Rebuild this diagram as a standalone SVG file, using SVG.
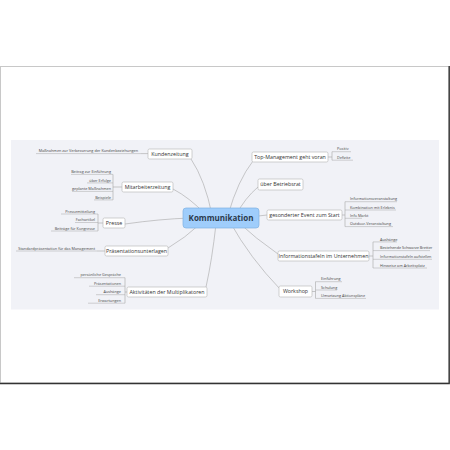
<svg xmlns="http://www.w3.org/2000/svg" width="450" height="450" viewBox="0 0 450 450">
<style>
.conn path{fill:none;stroke:#a6a6a6;stroke-width:0.6}
.node rect{fill:#ffffff;stroke:#b3b3b3;stroke-width:0.6}
.node text{font-family:"Open Sans","Liberation Sans",sans-serif;font-size:5.3px;fill:#333;text-anchor:middle}
.leaf text{font-family:"Open Sans","Liberation Sans",sans-serif;font-size:3.8px;fill:#444}
.leaf path{fill:none;stroke:#a6a6a6;stroke-width:0.5}
.l text{text-anchor:end}
.r text{text-anchor:start}
</style>
<rect x="0" y="0" width="450" height="450" fill="#ffffff"/>
<rect x="0.5" y="66.5" width="448.5" height="316.5" fill="#ffffff" stroke="#c8c8c8" stroke-width="1"/>
<path d="M449.2,66 V383.5 H0" fill="none" stroke="#333" stroke-width="1.4"/>
<rect x="11" y="140" width="428" height="169.5" fill="#f1f2f7"/>

<g class="conn">
<path d="M212,215 Q205,180 191,159"/>
<path d="M205,214 Q190,198 173,189"/>
<path d="M190,218 Q160,219 125,224"/>
<path d="M200,224 Q185,238 168,248"/>
<path d="M216,224 Q212,260 206,287"/>
<path d="M228,215 Q238,180 253,161"/>
<path d="M236,215 Q245,198 258,187"/>
<path d="M250,217 Q258,216 267,215"/>
<path d="M238,222 Q255,238 278,254"/>
<path d="M230,222 Q250,258 280,289"/>
<!-- brackets -->
<path d="M141,153.6 H148"/>
<path d="M122,187 H113 M113,174.4 V199.9"/>
<path d="M103,223 H98 M98,214 V231"/>
<path d="M105,251 H97"/>
<path d="M127,292 H125 M125,277.7 V303.2"/>
<path d="M328,157 H332 M332,151.7 V160.2"/>
<path d="M342,215 H345 M345,201.7 V226.6"/>
<path d="M369,256 H373 M373,241.9 V268"/>
<path d="M312,291.5 H315.5 M315.5,281.7 V298.4"/>
</g>

<g id="kundenzeitung" class="node"><rect x="148" y="149" width="44" height="10" rx="1.5"/><text x="170" y="155.9">Kundenzeitung</text></g>
<g id="mitarbeiterzeitung" class="node"><rect x="122" y="182" width="51" height="10" rx="1.5"/><text x="147.5" y="188.9">Mitarbeiterzeitung</text></g>
<g id="presse" class="node"><rect x="103" y="218" width="22" height="10" rx="1.5"/><text x="114" y="224.9">Presse</text></g>
<g id="praesentationsunterlagen" class="node"><rect x="105" y="246" width="63" height="10" rx="1.5"/><text x="136.5" y="252.9">Präsentationsunterlagen</text></g>
<g id="aktivitaeten" class="node"><rect x="127" y="287" width="80" height="10" rx="1.5"/><text x="167" y="293.9">Aktivitäten der Multiplikatoren</text></g>
<g id="topmanagement" class="node"><rect x="252" y="152" width="76" height="10" rx="1.5"/><text x="290" y="158.9">Top-Management geht voran</text></g>
<g id="betriebsrat" class="node"><rect x="258" y="179" width="45" height="11" rx="1.5"/><text x="280.5" y="186.4">über Betriebsrat</text></g>
<g id="event" class="node"><rect x="267" y="210" width="75" height="10" rx="1.5"/><text x="304.5" y="216.9">gesonderter Event zum Start</text></g>
<g id="informationstafeln" class="node"><rect x="278" y="251" width="91" height="10" rx="1.5"/><text x="323.5" y="257.9">Informationstafeln im Unternehmen</text></g>
<g id="workshop" class="node"><rect x="279" y="286" width="33" height="11" rx="1.5"/><text x="295.5" y="293.4">Workshop</text></g>

<g id="kommunikation"><rect x="183" y="208" width="76" height="20" rx="3" fill="#9fcdfb" stroke="#7fb2e2" stroke-width="0.7"/><text x="221" y="221" font-family="Open Sans,Liberation Sans,sans-serif" font-size="8" font-weight="bold" fill="#2b3a4c" text-anchor="middle">Kommunikation</text></g>

<g id="leaves-left" class="leaf l">
<g id="leaf-massnahmen"><text x="138" y="152.2">Maßnahmen zur Verbesserung der Kundenbeziehungen</text><path d="M36,153.6 H141"/></g>
<g id="leaf-beitrag"><text x="111" y="173.1">Beitrag zur Einführung</text><path d="M71,174.4 H113"/></g>
<g id="leaf-erfolge"><text x="111" y="181.6">über Erfolge</text><path d="M87,182.9 H113"/></g>
<g id="leaf-geplante"><text x="111" y="190.1">geplante Maßnahmen</text><path d="M72,191.4 H113"/></g>
<g id="leaf-beispiele"><text x="111" y="198.6">Beispiele</text><path d="M94,199.9 H113"/></g>
<g id="leaf-pressemitteilung"><text x="95" y="212.7">Pressemitteilung</text><path d="M61,214 H98"/></g>
<g id="leaf-fachartikel"><text x="95" y="221.2">Fachartikel</text><path d="M75,222.5 H98"/></g>
<g id="leaf-kongresse"><text x="95" y="229.7">Beiträge für Kongresse</text><path d="M51,231 H98"/></g>
<g id="leaf-standard"><text x="95" y="249.6">Standardpräsentation für das Management</text><path d="M16,251 H97"/></g>
<g id="leaf-gespraeche"><text x="121" y="276.4">persönliche Gespräche</text><path d="M74,277.7 H125"/></g>
<g id="leaf-praesentationen"><text x="121" y="284.9">Präsentationen</text><path d="M89,286.2 H125"/></g>
<g id="leaf-aushaenge1"><text x="121" y="293.4">Aushänge</text><path d="M96,294.7 H125"/></g>
<g id="leaf-erwartungen"><text x="121" y="301.9">Erwartungen</text><path d="M88,303.2 H125"/></g>
</g>

<g id="leaves-right" class="leaf r">
<g id="leaf-positiv"><text x="337" y="150.4">Positiv</text><path d="M332,151.7 H351"/></g>
<g id="leaf-defizite"><text x="337" y="158.9">Defizite</text><path d="M332,160.2 H353"/></g>
<g id="leaf-infoveranst"><text x="350" y="200.4">Informationsveranstaltung</text><path d="M345,201.7 H397"/></g>
<g id="leaf-kombination"><text x="350" y="208.7">Kombination mit Erlebnis</text><path d="M345,210 H396"/></g>
<g id="leaf-infomarkt"><text x="350" y="217">Info Markt</text><path d="M345,218.3 H362"/></g>
<g id="leaf-outdoor"><text x="350" y="225.3">Outdoor-Veranstaltung</text><path d="M345,226.6 H393"/></g>
<g id="leaf-aushaenge2"><text x="380" y="240.6">Aushänge</text><path d="M373,241.9 H397"/></g>
<g id="leaf-bretter"><text x="380" y="249.3">Bestehende Schwarze Bretter</text><path d="M373,250.6 H430"/></g>
<g id="leaf-aufstellen"><text x="380" y="258">Informationstafeln aufstellen</text><path d="M373,259.3 H432"/></g>
<g id="leaf-hinweise"><text x="380" y="266.7">Hinweise am Arbeitsplatz</text><path d="M373,268 H427"/></g>
<g id="leaf-einfuehrung"><text x="321" y="280.4">Einführung</text><path d="M315.5,281.7 H342"/></g>
<g id="leaf-schulung"><text x="321" y="288.7">Schulung</text><path d="M315.5,290 H337"/></g>
<g id="leaf-umsetzung"><text x="321" y="297.1">Umsetzung Aktionspläne</text><path d="M315.5,298.4 H366"/></g>
</g>
</svg>
